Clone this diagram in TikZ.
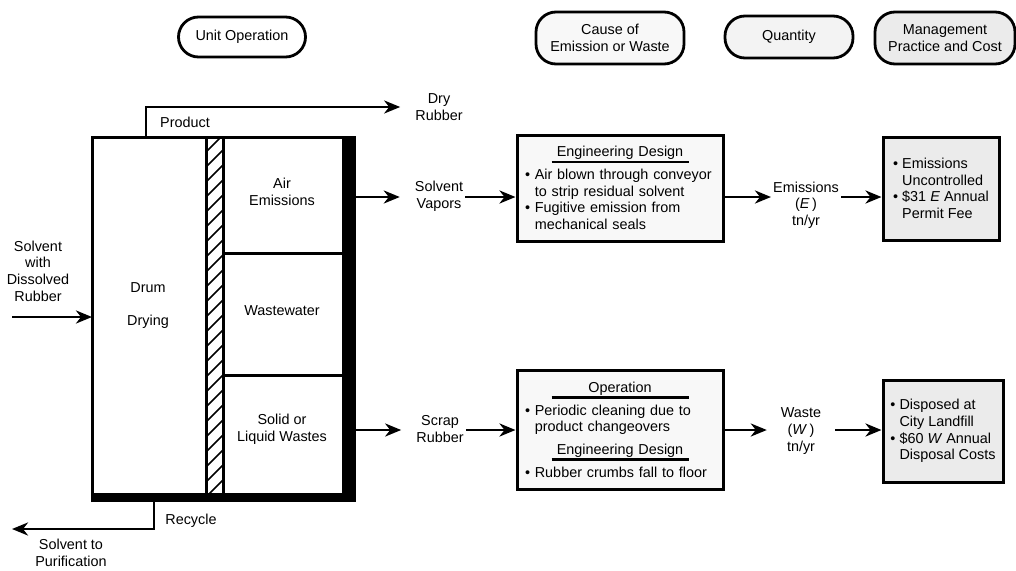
\documentclass[tikz,border=0pt]{standalone}
\usepackage{fontspec}
\setmainfont{Liberation Sans}
\usetikzlibrary{arrows.meta,positioning}
\definecolor{causegray}{HTML}{F8F8F8}
\definecolor{qtygray}{HTML}{F3F3F3}
\definecolor{mgmtgray}{HTML}{EBEBEB}
\setlength{\parindent}{0pt}
\newcommand{\hd}[1]{\leavevmode\hbox to \hsize{\hss\vbox{\hbox to 137pt{\hss#1\hss}\kern1pt\hrule height 2.5pt}\hss}\par}
\newcommand{\cont}{\leavevmode\hphantom{\textbullet\ }}
\tikzset{
    flow/.style={-{Stealth[length=16pt, width=13pt, inset=5pt]}, line width=2.8pt},
    outflow/.style={flow, shorten >=13pt},
    pill/.style={draw, rounded corners=20pt, line width=2.8pt, align=center},
    lbl/.style={align=center, inner sep=2pt},
    causebox/.style={draw, line width=3pt, fill=causegray, text width=190pt, minimum width=206pt, inner xsep=8pt, align=left},
    mgmtbox/.style={draw, line width=3pt, fill=mgmtgray, align=left},
    wall/.style={line width=3pt},
    hatch/.style={line width=1.5pt}
}

\begin{document}
\begin{tikzpicture}[x=1pt, y=-1pt, font=\fontsize{14.4}{16.6}\selectfont]
    \useasboundingbox (0,0) rectangle (1016,570);

    % column headings
    \node[pill, minimum width=127pt, minimum height=40pt] (hdunit) at (242,37) {Unit Operation};
    \node[pill, fill=causegray, minimum width=148pt, minimum height=52pt] (hdcause) at (610,38) {Cause of\\Emission or Waste};
    \node[pill, fill=qtygray, minimum width=128pt, minimum height=42pt] (hdqty) at (789,37) {Quantity};
    \node[pill, fill=mgmtgray, minimum width=140pt, minimum height=52pt] (hdmgmt) at (945,38) {Management\\Practice and Cost};

    % drum dryer
    \draw[wall] (92,502) -- (92,137) -- (356,137);
    \fill (342,135.5) rectangle (356,502);
    \fill (92,493) rectangle (356,502);
    \begin{scope}
        \clip (206,137) rectangle (223,493);
        \foreach \k in {0,...,25}
            \draw[hatch] (206,137+15*\k) -- ++(17,-17);
    \end{scope}
    \draw[wall] (206,137) -- (206,493) (223,137) -- (223,493);
    \draw[wall] (223,253) -- (342,253) (223,375) -- (342,375);

    \node[lbl] (drum) at (148,305.5) {Drum\\[16.4pt]Drying};
    \node[lbl] (airem) at (282,192) {Air\\Emissions};
    \node[lbl] (wastew) at (282,311) {Wastewater};
    \node[lbl] (solidw) at (282,429) {Solid or\\Liquid Wastes};

    \coordinate (prodout) at (146,137);
    \coordinate (recout) at (154,502);
    \coordinate (vapout) at (356,197);
    \coordinate (solout) at (356,430);
    \coordinate (feedin) at (92,317);
    \coordinate (feedtail) at (12,317);
    \coordinate (purtip) at (12,529);

    % streams
    \node[lbl] (feed) at (38,271) {Solvent\\with\\Dissolved\\Rubber};
    \node[lbl] (prodlbl) at (185,122) {Product};
    \node[lbl] (drybr) at (439,107) {Dry\\Rubber};
    \node[lbl] (reclbl) at (191,521) {Recycle};
    \node[lbl] (purif) at (71,553) {Solvent to\\Purification};
    \node[lbl] (vapors) at (439,196) {Solvent\\Vapors};
    \node[lbl] (scrap) at (440,429) {Scrap\\Rubber};

    % causes
    \node[causebox, minimum height=106pt] (cause1) at (620,188) {\hd{Engineering Design}\textbullet\ Air blown through conveyor\\\cont to strip residual solvent\\\textbullet\ Fugitive emission from\\\cont mechanical seals};
    \node[causebox, minimum height=119pt] (cause2) at (620,429.5) {\hd{Operation}\textbullet\ Periodic cleaning due to\\\cont product changeovers\par\vspace{8pt}\hd{Engineering Design}\textbullet\ Rubber crumbs fall to floor};

    % quantities
    \node[lbl] (emis) at (806,205) {Emissions\\(\textit{E}\,)\\tn/yr};
    \node[lbl, minimum width=68pt] (waste) at (801,431) {Waste\\(\textit{W}\,)\\tn/yr};

    % management
    \node[mgmtbox, minimum width=116pt, minimum height=103pt] (mgmt1) at (941,188.5) {\textbullet\ Emissions\\\cont Uncontrolled\\\textbullet\ \$31 \textit{E} Annual\\\cont Permit Fee};
    \node[mgmtbox, minimum width=120pt, minimum height=102pt] (mgmt2) at (943,431) {\textbullet\ Disposed at\\\cont City Landfill\\\textbullet\ \$60 \textit{W} Annual\\\cont Disposal Costs};

    \draw[flow] (feedtail) -- (feedin);
    \draw[outflow] (prodout) |- (drybr.west);
    \draw[flow] (recout) |- (purtip);

    \draw[outflow] (vapout) -- (vapout -| vapors.west);
    \draw[flow] (vapout -| vapors.east) -- (vapout -| cause1.west);
    \draw[flow] (vapout -| cause1.east) -- (vapout -| emis.west);
    \draw[flow] (vapout -| emis.east) -- (vapout -| mgmt1.west);

    \draw[outflow] (solout) -- (solout -| scrap.west);
    \draw[flow] (solout -| scrap.east) -- (solout -| cause2.west);
    \draw[flow] (solout -| cause2.east) -- (solout -| waste.west);
    \draw[flow] (solout -| waste.east) -- (solout -| mgmt2.west);
\end{tikzpicture}
\end{document}
